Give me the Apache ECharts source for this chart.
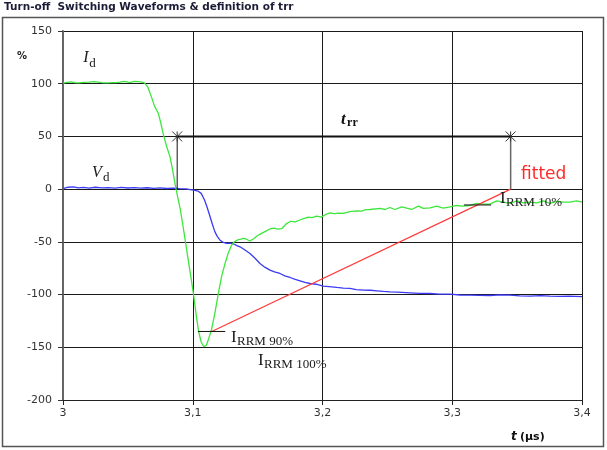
<!DOCTYPE html>
<html>
<head>
<meta charset="utf-8">
<script src="https://cdn.jsdelivr.net/npm/echarts@6/dist/echarts.min.js"></script>
<style>
  html, body { margin: 0; padding: 0; background: #fff; }
  #chart { width: 607px; height: 450px; }
</style>
</head>
<body>
<div id="chart"></div>
<script>
// Diode turn-off waveforms (percent of nominal) versus time in microseconds
const idCurve = [
  [3.000,100.5],[3.003,101.2],[3.006,101.8],[3.009,101.0],[3.012,100.8],[3.016,101.3],
  [3.020,101.6],[3.024,102.0],[3.027,101.5],[3.030,101.0],[3.034,100.8],[3.038,101.1],
  [3.041,101.0],[3.044,101.5],[3.047,102.3],[3.050,101.4],[3.052,101.3],[3.055,102.3],
  [3.058,102.0],[3.061,101.6],[3.063,100.5],[3.0655,96.5],[3.068,88],[3.0705,79],
  [3.0735,71.8],[3.0755,62],[3.0775,51],[3.080,40],[3.0825,30.6],[3.0845,18],[3.0865,4],
  [3.0885,-8],[3.0905,-20],[3.093,-39],[3.0955,-59],[3.098,-79],[3.1005,-99],[3.1025,-118],
  [3.1045,-135],[3.1065,-145],[3.1085,-149.5],[3.1105,-148],[3.1125,-141],[3.1145,-133],
  [3.117,-118],[3.1197,-99],[3.1222,-83],[3.125,-70],[3.1275,-60],[3.130,-53],[3.132,-50],
  [3.1345,-48.2],[3.137,-47.5],[3.139,-46.8],[3.1415,-47.5],[3.144,-49.2],[3.147,-47],
  [3.150,-44],[3.153,-42],[3.156,-40],[3.159,-38],[3.1625,-37],[3.1655,-38],[3.1685,-37.5],
  [3.172,-33],[3.1755,-30.5],[3.179,-31],[3.182,-29.5],[3.1855,-28],[3.189,-26.5],[3.192,-27],
  [3.1955,-25.6],[3.199,-26.5],[3.2025,-24],[3.2058,-22.5],[3.209,-23.3],[3.2125,-22.8],
  [3.216,-23],[3.2195,-21.8],[3.2225,-21],[3.2264,-20.6],[3.230,-20.8],[3.2335,-19.5],
  [3.2366,-19.3],[3.2443,-18.3],[3.2482,-19.3],[3.252,-17.4],[3.2559,-19.3],[3.261,-16.8],
  [3.2649,-18],[3.2687,-19.3],[3.2739,-16.1],[3.2777,-18.3],[3.2829,-17.7],[3.288,-16.1],
  [3.2931,-18],[3.2983,-16.8],[3.3034,-15.5],[3.3073,-16.1],[3.3137,-15.5],[3.3188,-13.6],
  [3.3239,-14.2],[3.3291,-14.2],[3.3343,-11.1],[3.3394,-12.3],[3.3445,-13.6],[3.3497,-11.1],
  [3.3548,-13],[3.3599,-12.3],[3.3651,-13],[3.3702,-11.1],[3.3753,-13.6],[3.3805,-11.7],
  [3.3856,-12.3],[3.3908,-12.3],[3.3959,-11.1],[3.400,-12.3]
];

const vdCurve = [
  [3.000,0.5],[3.004,1.8],[3.008,2.2],[3.012,1.2],[3.016,1.6],[3.020,1.0],[3.025,1.8],
  [3.030,1.2],[3.035,1.5],[3.040,0.9],[3.045,1.6],[3.050,1.1],[3.055,1.4],[3.060,0.9],
  [3.065,1.3],[3.070,0.8],[3.075,1.2],[3.080,0.6],[3.085,1.0],[3.090,0.5],[3.095,0.3],
  [3.098,-0.5],[3.101,-1],[3.104,-1.8],[3.1065,-4],[3.109,-10],[3.111,-17],[3.1133,-26],
  [3.1152,-33.5],[3.1171,-40.5],[3.119,-45],[3.121,-48.4],[3.1235,-50.5],[3.1262,-51.5],
  [3.129,-51.2],[3.1313,-51.8],[3.134,-53.5],[3.1364,-54.7],[3.140,-57.5],[3.1441,-61],
  [3.148,-65.5],[3.1518,-70.5],[3.1555,-74],[3.1595,-76.8],[3.163,-78.5],[3.1672,-80],
  [3.171,-82.2],[3.175,-83.8],[3.179,-85.5],[3.1827,-86.9],[3.1865,-88.5],[3.1904,-89.5],
  [3.195,-90.2],[3.2006,-92],[3.205,-92.4],[3.211,-93.2],[3.216,-93.8],[3.2212,-94.2],
  [3.226,-95.3],[3.2315,-95.8],[3.237,-95.9],[3.2418,-96.4],[3.247,-97],[3.252,-97.4],
  [3.258,-97.7],[3.2674,-98.3],[3.275,-98.8],[3.2829,-99],[3.29,-99.5],[3.2983,-99.6],
  [3.306,-100.4],[3.3137,-100.6],[3.321,-100.8],[3.329,-100.9],[3.337,-100.3],[3.3445,-100.6],
  [3.352,-101.3],[3.36,-101.5],[3.368,-101],[3.3753,-101.5],[3.383,-101.8],[3.39,-101.5],
  [3.4,-102]
];

// Reverse-recovery construction
const trrLevel = 50;
const trrStart = 3.088;
const trrEnd = 3.345;
const fitLine = [[3.1146, -135], [3.345, 0]];
const irrm90Mark = [[3.104, -135], [3.125, -135]];
const irrm10Mark = [[3.309, -15], [3.330, -15]];

// Axis ranges
const xRange = [3, 3.4, 0.1];
const yRange = [-200, 150, 50];

const chart = echarts.init(document.getElementById('chart'), null, { renderer: 'canvas' });

const sans = 'DejaVu Sans, Verdana, sans-serif';
const serif = 'Liberation Serif, DejaVu Serif, serif';
const asterisk = 'path://M0,0L10,10M10,0L0,10M5,0L5,10';

const plainLine = (data, color, width, z) => ({
  type: 'line', data, showSymbol: false, symbol: 'none', silent: true,
  lineStyle: { color, width }, z, animation: false
});

chart.setOption({
  animation: false,
  grid: { left: 63, right: 25, top: 31, bottom: 50, containLabel: false },
  xAxis: {
    type: 'value', min: xRange[0], max: xRange[1], interval: xRange[2],
    axisLine: { show: true, onZero: false, lineStyle: { color: '#222', width: 1 } },
    axisTick: { show: true, length: 5, lineStyle: { color: '#222' } },
    splitLine: { show: true, lineStyle: { color: '#1a1a1a', width: 1 } },
    axisLabel: {
      color: '#333', fontFamily: sans, fontSize: 11, margin: 8,
      formatter: v => String(Math.round(v * 10) / 10).replace('.', ',')
    }
  },
  yAxis: {
    type: 'value', min: yRange[0], max: yRange[1], interval: yRange[2],
    axisLine: { show: true, onZero: false, lineStyle: { color: '#666', width: 2 } },
    axisTick: { show: true, length: 5, lineStyle: { color: '#333' } },
    splitLine: { show: true, lineStyle: { color: '#1a1a1a', width: 1 } },
    axisLabel: { color: '#333', fontFamily: sans, fontSize: 11, margin: 11 }
  },
  series: [
    plainLine(vdCurve, '#3b3bf5', 1.3, 3),
    plainLine(idCurve, '#3de63d', 1.3, 4),
    plainLine([[trrStart, trrLevel], [trrStart, 0]], '#111', 1, 5),
    plainLine([[trrEnd, trrLevel], [trrEnd, 0]], '#666', 1.5, 5),
    plainLine(fitLine, '#ff3b3b', 1.2, 5),
    plainLine(irrm90Mark, '#111', 1, 5),
    plainLine(irrm10Mark, '#111', 1, 5),
    {
      type: 'line', data: [[trrStart, trrLevel], [trrEnd, trrLevel]], silent: true,
      symbol: asterisk, symbolSize: 10, showSymbol: true,
      itemStyle: { color: 'none', borderColor: '#333', borderWidth: 1 },
      lineStyle: { color: '#111', width: 2 }, z: 6, animation: false
    }
  ]
});

// Annotation text anchored to data positions
const anchors = {
  id: [3.0156, 124.3],
  vd: [3.0224, 15.7],
  trr: [3.2143, 66.4],
  irrm90: [3.1295, -141],
  irrm100: [3.1503, -163],
  irrm10: [3.3368, -8.5],
  fitted: [3.353, 14.2]
};
const P = k => chart.convertToPixel({ gridIndex: 0 }, anchors[k]);

function subLabel(k, main, sub, mainFont, subFont, dx, dy, color) {
  const p = P(k);
  return [
    { type: 'text', x: p[0], y: p[1], z: 20,
      style: { text: main, font: mainFont, fill: color, textAlign: 'left', textVerticalAlign: 'middle' } },
    { type: 'text', x: p[0] + dx, y: p[1] + dy, z: 20,
      style: { text: sub, font: subFont, fill: color, textAlign: 'left', textVerticalAlign: 'middle' } }
  ];
}

const fp = P('fitted');
const graphics = [
  { type: 'rect', shape: { x: 2.5, y: 17.5, width: 601, height: 429 }, z: 0,
    style: { fill: 'none', stroke: '#555', lineWidth: 1.5 } },
  { type: 'text', left: 4, top: 2, z: 20,
    style: { text: 'Turn-off  Switching Waveforms & definition of trr', font: 'bold 10.5px ' + sans, fill: '#1c1c38' } },
  { type: 'text', left: 17, top: 51, z: 20,
    style: { text: '%', font: 'bold 10px ' + sans, fill: '#222' } },
  { type: 'text', x: 511, y: 437, z: 20,
    style: { text: 't', font: 'italic bold 12px ' + sans, fill: '#111', textVerticalAlign: 'middle' } },
  { type: 'text', x: 520, y: 437, z: 20,
    style: { text: '(µs)', font: 'bold 11px ' + sans, fill: '#111', textVerticalAlign: 'middle' } },
  { type: 'text', x: fp[0], y: fp[1], z: 20,
    style: { text: 'fitted', font: '17px ' + sans, fill: '#ff2a2a', textVerticalAlign: 'middle' } }
]
  .concat(subLabel('id', 'I', 'd', 'italic 16px ' + serif, '13px ' + serif, 6, 5, '#1a1a1a'))
  .concat(subLabel('vd', 'V', 'd', 'italic 16px ' + serif, '13px ' + serif, 11, 5, '#1a1a1a'))
  .concat(subLabel('trr', 't', 'rr', 'italic bold 17px ' + serif, 'bold 12px ' + serif, 6, 4, '#111'))
  .concat(subLabel('irrm90', 'I', 'RRM 90%', '17px ' + serif, '13px ' + serif, 6, 4, '#1a1a1a'))
  .concat(subLabel('irrm100', 'I', 'RRM 100%', '17px ' + serif, '13px ' + serif, 6, 4, '#1a1a1a'))
  .concat(subLabel('irrm10', 'I', 'RRM 10%', '17px ' + serif, '13px ' + serif, 6, 4, '#1a1a1a'));

chart.setOption({ graphic: graphics });
</script>
</body>
</html>
